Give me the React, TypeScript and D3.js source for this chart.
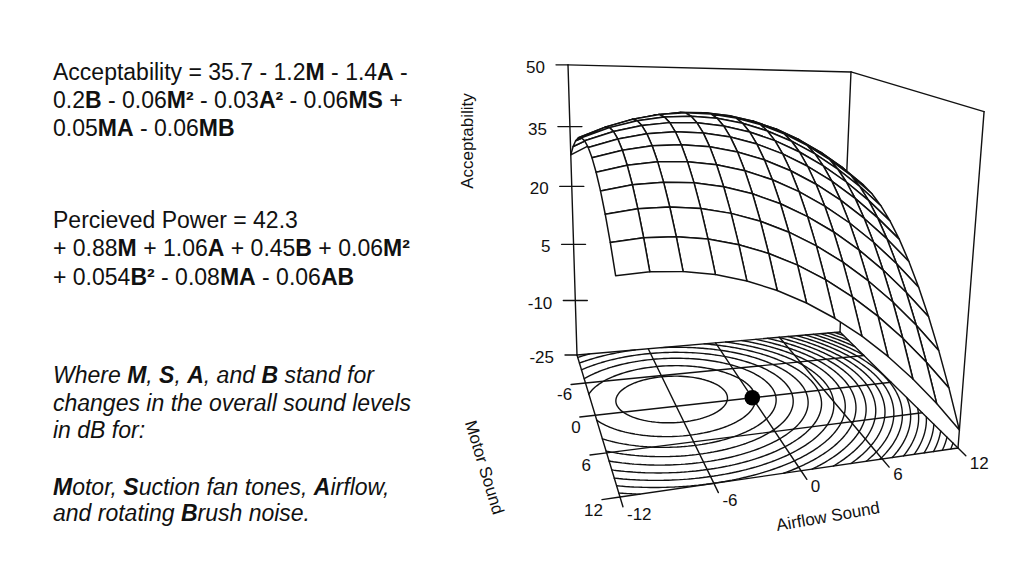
"use client";

import React, { useEffect, useRef } from "react";
import * as d3 from "d3";

// mesh of the response surface, every 2 dB on both factors
const meshSteps = [-12, -10, -8, -6, -4, -2, 0, 2, 4, 6, 8, 10, 12];

// quadratic terms: [const, A, M, A^2, M^2, A*M]
const surfaceCoef = [37.0, -0.978, -1.048, -0.085, -0.088, -0.0585];
// contour map drawn on the floor of the box
const floorCoef = [33.84, -1.284, -0.321, -0.107, -0.107, 0];
const floorLevels = [
  36, 33.5, 31, 28.5, 26, 23.5, 21, 18.5, 16, 13.5, 11, 8.5, 6, 3.5, 1, -1.5, -4, -6.5, -9, -11.5, -14,
];

const zTicks = [50, 35, 20, 5, -10, -25];
const motorTicks = [-6, 0, 6, 12];
const airflowTicks = [-12, -6, 0, 6, 12];
const floorGrid = [-6, 0, 6];
const centrePoint = [0, 0];

// *text* = bold
const equationLines = [
  "Acceptability = 35.7 - 1.2*M* - 1.4*A* -",
  "0.2*B* - 0.06*M²* - 0.03*A²* - 0.06*MS* +",
  "0.05*MA* - 0.06*MB*",
  "Percieved Power = 42.3",
  "+ 0.88*M* + 1.06*A* + 0.45*B* + 0.06*M²*",
  "+ 0.054*B²* - 0.08*MA* - 0.06*AB*",
];
const equationY = [80, 108, 136, 228, 256, 285];

const noteLines = [
  "Where *M*, *S*, *A*, and *B* stand for",
  "changes in the overall sound levels",
  "in dB for:",
  "*M*otor, *S*uction fan tones, *A*irflow,",
  "and rotating *B*rush noise.",
];
const noteY = [383, 411, 438, 495, 521];

const font = "'Liberation Sans', Arial, Helvetica, sans-serif";

// perspective view of the unit box (like persp theta/phi/d)
const view = [
  [358.47, -119.17, -51.6, 577],
  [14.73, 12.0, -295, 355],
  [0.11365, -0.26157, -0.075, 1],
];

const sA = d3.scaleLinear().domain([-12, 12]).range([0, 1]);
const sM = d3.scaleLinear().domain([-12, 12]).range([0, 1]);
const sZ = d3.scaleLinear().domain([-25, 50]).range([0, 1]);

const homog = (a: number, m: number, z: number) => {
  const p = [sA(a), sM(m), sZ(z), 1];
  return view.map((row) => row[0] * p[0] + row[1] * p[1] + row[2] * p[2] + row[3] * p[3]);
};
const project = (a: number, m: number, z: number): [number, number] => {
  const [u, v, w] = homog(a, m, z);
  return [u / w, v / w];
};
const depth = (a: number, m: number, z: number) => homog(a, m, z)[2];

const quad = (c: number[], a: number, m: number) =>
  c[0] + c[1] * a + c[2] * m + c[3] * a * a + c[4] * m * m + c[5] * a * m;

const addRichText = (sel: any, line: string, boldStyle: string) => {
  line.split("*").forEach((part, i) => {
    if (!part) return;
    const t = sel.append("tspan").text(part);
    if (i % 2 === 1) t.attr("font-weight", "bold").attr("font-style", boldStyle);
  });
};

const App: React.FC = () => {
  const svgRef = useRef<SVGSVGElement>(null);

  useEffect(() => {
    if (!svgRef.current) return;
    const svg = d3.select(svgRef.current);
    svg.selectAll("*").remove();

    const zMin = -25;
    const zMax = 50;
    const lo = -12;
    const hi = 12;
    const stroke = "#111";

    const seg = (g: any, p: [number, number], q: [number, number], w = 1.4) =>
      g
        .append("line")
        .attr("x1", p[0])
        .attr("y1", p[1])
        .attr("x2", q[0])
        .attr("y2", q[1])
        .attr("stroke", stroke)
        .attr("stroke-width", w)
        .attr("stroke-linecap", "round");

    // left hand text
    const textG = svg.append("g").attr("font-family", font).attr("fill", "#111");
    equationLines.forEach((line, i) => {
      const t = textG
        .append("text")
        .attr("x", 53)
        .attr("y", equationY[i])
        .attr("font-size", 23)
        .style("white-space", "pre");
      addRichText(t, line, "normal");
    });
    noteLines.forEach((line, i) => {
      const t = textG
        .append("text")
        .attr("x", 53)
        .attr("y", noteY[i])
        .attr("font-size", 23)
        .attr("font-style", "italic")
        .style("white-space", "pre");
      addRichText(t, line, "italic");
    });

    // box back edges
    const box = svg.append("g");
    seg(box, project(lo, lo, zMin), project(lo, lo, zMax));
    seg(box, project(lo, lo, zMax), project(hi, lo, zMax));
    seg(box, project(hi, lo, zMin), project(hi, lo, zMax));
    seg(box, project(hi, lo, zMax), project(hi, hi, zMax));
    seg(box, project(hi, hi, zMin), project(hi, hi, zMax));

    // z axis ticks and labels
    const axisText = svg.append("g").attr("font-family", font).attr("font-size", 17).attr("fill", "#111");
    zTicks.forEach((z) => {
      const [x, y] = project(lo, lo, z);
      const right = z === zMax || z === zMin ? 0 : 12;
      seg(box, [x - 12, y], [x + right, y]);
      axisText
        .append("text")
        .attr("x", x - 23)
        .attr("y", y + 8)
        .attr("text-anchor", "end")
        .text(z);
    });

    // floor: outline, grid, contours
    const floor = svg.append("g");
    const corners: [number, number][] = [
      [lo, lo],
      [hi, lo],
      [hi, hi],
      [lo, hi],
    ];
    corners.forEach((c, i) => {
      const d = corners[(i + 1) % 4];
      seg(floor, project(c[0], c[1], zMin), project(d[0], d[1], zMin));
    });
    floorGrid.forEach((g) => {
      seg(floor, project(g, lo, zMin), project(g, hi, zMin));
      seg(floor, project(lo, g, zMin), project(hi, g, zMin));
    });

    const fine = d3.range(lo, hi + 0.001, 0.25);
    const fz = fine.map((m) => fine.map((a) => quad(floorCoef, a, m)));
    floorLevels.forEach((level) => {
      const path = d3.path();
      for (let j = 0; j < fine.length - 1; j++) {
        for (let i = 0; i < fine.length - 1; i++) {
          const c = [
            [fine[i], fine[j], fz[j][i]],
            [fine[i + 1], fine[j], fz[j][i + 1]],
            [fine[i + 1], fine[j + 1], fz[j + 1][i + 1]],
            [fine[i], fine[j + 1], fz[j + 1][i]],
          ];
          const hits: [number, number][] = [];
          for (let k = 0; k < 4; k++) {
            const p = c[k];
            const q = c[(k + 1) % 4];
            if (p[2] >= level !== q[2] >= level) {
              const t = (level - p[2]) / (q[2] - p[2]);
              hits.push(project(p[0] + t * (q[0] - p[0]), p[1] + t * (q[1] - p[1]), zMin));
            }
          }
          for (let k = 0; k + 1 < hits.length; k += 2) {
            path.moveTo(hits[k][0], hits[k][1]);
            path.lineTo(hits[k + 1][0], hits[k + 1][1]);
          }
        }
      }
      floor
        .append("path")
        .attr("d", path.toString())
        .attr("fill", "none")
        .attr("stroke", stroke)
        .attr("stroke-width", 1.4)
        .attr("stroke-linecap", "round");
    });

    const dot = project(centrePoint[0], centrePoint[1], zMin);
    floor.append("circle").attr("cx", dot[0]).attr("cy", dot[1]).attr("r", 7.8).attr("fill", "#000");

    // motor axis (left floor edge)
    motorTicks.forEach((m) => {
      const p0 = project(lo, m, zMin);
      const p1 = project(lo - 1.1, m, zMin);
      seg(floor, p0, p1);
      axisText
        .append("text")
        .attr("x", p1[0] + 1)
        .attr("y", p1[1] + 16)
        .attr("text-anchor", "end")
        .text(m);
    });

    // airflow axis (front floor edge)
    airflowTicks.forEach((a) => {
      const p0 = project(a, hi, zMin);
      const p1 = project(a, hi + 1.2, zMin);
      seg(floor, p0, p1);
      axisText
        .append("text")
        .attr("x", p1[0] + 4)
        .attr("y", p1[1] + 13)
        .attr("text-anchor", "start")
        .text(a);
    });

    // surface cells, painted far to near
    const cells: { pts: [number, number][]; d: number }[] = [];
    for (let i = 0; i < meshSteps.length - 1; i++) {
      for (let j = 0; j < meshSteps.length - 1; j++) {
        const a0 = meshSteps[i];
        const a1 = meshSteps[i + 1];
        const m0 = meshSteps[j];
        const m1 = meshSteps[j + 1];
        const pts = [
          [a0, m0],
          [a1, m0],
          [a1, m1],
          [a0, m1],
        ].map(([a, m]) => project(a, m, quad(surfaceCoef, a, m)));
        const ca = (a0 + a1) / 2;
        const cm = (m0 + m1) / 2;
        cells.push({ pts, d: depth(ca, cm, quad(surfaceCoef, ca, cm)) });
      }
    }
    cells.sort((p, q) => q.d - p.d);
    svg
      .append("g")
      .selectAll("path")
      .data(cells)
      .join("path")
      .attr("d", (c) => "M" + c.pts.map((p) => p.join(",")).join("L") + "Z")
      .attr("fill", "#fff")
      .attr("stroke", stroke)
      .attr("stroke-width", 1.5)
      .attr("stroke-linejoin", "round");

    // axis titles
    axisText
      .append("text")
      .attr("transform", "translate(473,141) rotate(-90)")
      .attr("text-anchor", "middle")
      .text("Acceptability");
    axisText
      .append("text")
      .attr("transform", "translate(479,469) rotate(73)")
      .attr("text-anchor", "middle")
      .text("Motor Sound");
    axisText
      .append("text")
      .attr("transform", "translate(829,522) rotate(-10)")
      .attr("text-anchor", "middle")
      .text("Airflow Sound");
  }, []);

  return (
    <svg
      ref={svgRef}
      width={1024}
      height={585}
      style={{ position: "absolute", left: 0, top: 0, background: "#fff" }}
    />
  );
};

export default App;
